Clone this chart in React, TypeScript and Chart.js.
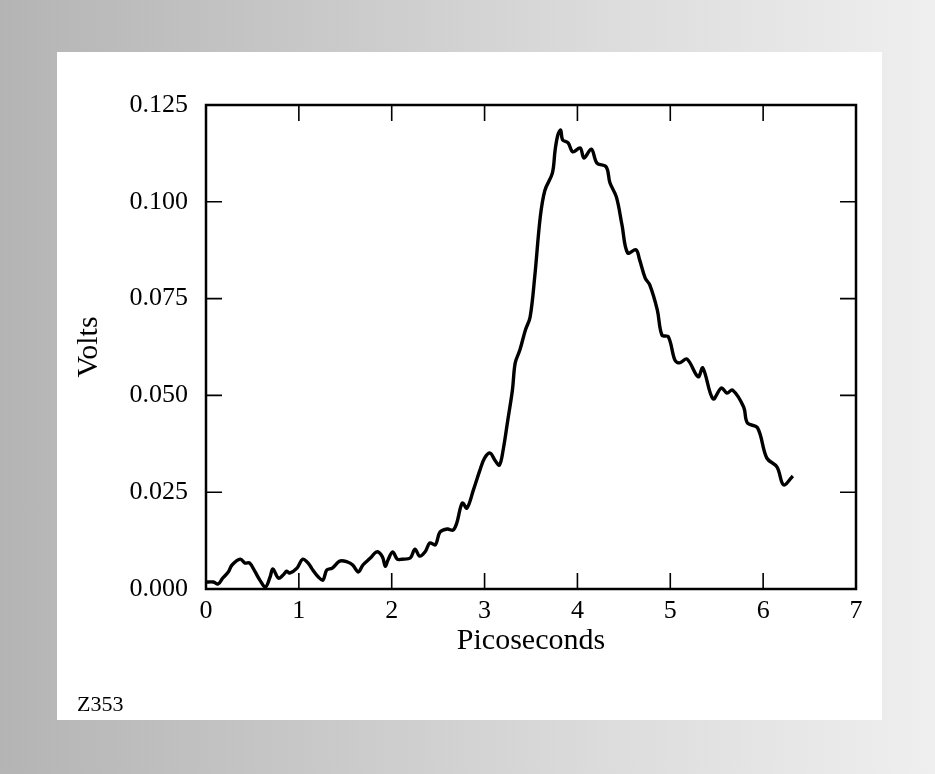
import React, { useEffect, useRef } from "react";
import { Chart, registerables } from "chart.js";

Chart.register(...registerables);

// Picoseconds (x) and Volts (y)
const timePs = [
  0.0, 0.08, 0.13, 0.18, 0.24, 0.28, 0.37, 0.42, 0.47, 0.53, 0.58, 0.64, 0.69, 0.72, 0.78, 0.83, 0.87, 0.9, 0.98,
  1.04, 1.1, 1.15, 1.21, 1.26, 1.3, 1.36, 1.44, 1.52, 1.58, 1.64, 1.69, 1.77, 1.84, 1.9, 1.93, 1.96,
  2.01, 2.06, 2.11, 2.2, 2.25, 2.3, 2.36, 2.41, 2.47, 2.52, 2.6, 2.66, 2.7, 2.76, 2.81, 2.88, 2.95,
  3.0, 3.06, 3.11, 3.16, 3.2, 3.25, 3.3, 3.33, 3.38, 3.44, 3.49, 3.54, 3.6, 3.65, 3.73, 3.76, 3.79, 3.82, 3.84, 3.9, 3.95,
  4.03, 4.07, 4.15, 4.21, 4.31, 4.35, 4.42, 4.48, 4.54, 4.63, 4.67, 4.73, 4.78, 4.86, 4.91, 4.98,
  5.05, 5.1, 5.18, 5.3, 5.35, 5.46, 5.55, 5.61, 5.67, 5.79, 5.83, 5.94,
  6.04, 6.15, 6.22, 6.32,
];
const volts = [
  0.0018, 0.0018, 0.0013, 0.0028, 0.0044, 0.0062, 0.0077, 0.0067, 0.0067, 0.0044, 0.0023, 0.0005, 0.0031, 0.0052, 0.0028, 0.0036, 0.0046, 0.0041, 0.0054,
  0.0077, 0.0067, 0.0049, 0.0031, 0.0023, 0.0049, 0.0054, 0.0072, 0.007, 0.0062, 0.0044, 0.0062, 0.008, 0.0096, 0.0083, 0.0059, 0.0075,
  0.0096, 0.0077, 0.0077, 0.008, 0.0103, 0.0085, 0.0096, 0.0119, 0.0114, 0.0147, 0.0155, 0.0152, 0.017, 0.0222, 0.0209, 0.0256, 0.0307,
  0.0338, 0.0351, 0.0333, 0.032, 0.0359, 0.0436, 0.0514, 0.0584, 0.0617, 0.0669, 0.0702, 0.0806, 0.0961, 0.103, 0.1074, 0.1134, 0.1173, 0.1185, 0.116, 0.1152, 0.1129,
  0.1139, 0.1113, 0.1136, 0.11, 0.109, 0.1049, 0.1012, 0.094, 0.0868, 0.0876, 0.085, 0.0803, 0.0785, 0.0721, 0.0656, 0.0651,
  0.0591, 0.0584, 0.0594, 0.0548, 0.0571, 0.0491, 0.0519, 0.0506, 0.0514, 0.047, 0.0429, 0.0416,
  0.0338, 0.0315, 0.0269, 0.0292,
];

const xTickValues = [0, 1, 2, 3, 4, 5, 6, 7];
const yTickValues = [0, 0.025, 0.05, 0.075, 0.1, 0.125];

const xTitle = "Picoseconds";
const yTitle = "Volts";
const figureId = "Z353";

const SERIF = "'Liberation Serif', 'Times New Roman', Times, serif";

const frameAndTicks = {
  id: "frameAndTicks",
  afterDatasetsDraw(chart: any) {
    const { ctx, chartArea } = chart;
    const xs = chart.scales.x;
    const ys = chart.scales.y;
    const len = 16;
    ctx.save();
    ctx.strokeStyle = "#000";
    ctx.lineWidth = 1.6;
    ctx.beginPath();
    xTickValues.slice(1, -1).forEach((v) => {
      const px = xs.getPixelForValue(v);
      ctx.moveTo(px, chartArea.bottom);
      ctx.lineTo(px, chartArea.bottom - len);
      ctx.moveTo(px, chartArea.top);
      ctx.lineTo(px, chartArea.top + len);
    });
    yTickValues.slice(1, -1).forEach((v) => {
      const py = ys.getPixelForValue(v);
      ctx.moveTo(chartArea.left, py);
      ctx.lineTo(chartArea.left + len, py);
      ctx.moveTo(chartArea.right, py);
      ctx.lineTo(chartArea.right - len, py);
    });
    ctx.stroke();
    ctx.lineWidth = 2.5;
    ctx.strokeRect(chartArea.left, chartArea.top, chartArea.right - chartArea.left, chartArea.bottom - chartArea.top);
    ctx.restore();
  },
};

export default function App() {
  const canvasRef = useRef<HTMLCanvasElement | null>(null);

  useEffect(() => {
    if (!canvasRef.current) return;
    const points = timePs.map((t, i) => ({ x: t, y: volts[i] }));
    const chart = new Chart(canvasRef.current, {
      type: "line",
      data: {
        datasets: [
          {
            data: points,
            borderColor: "#000",
            borderWidth: 3.4,
            pointRadius: 0,
            tension: 0.35,
            fill: false,
          },
        ],
      },
      options: {
        animation: false,
        responsive: false,
        devicePixelRatio: 1,
        layout: { padding: { left: 67, top: 105, right: 79, bottom: 111 } },
        plugins: { legend: { display: false }, tooltip: { enabled: false } },
        scales: {
          x: {
            type: "linear",
            min: 0,
            max: 7,
            afterFit: (s: any) => {
              s.height = 74;
            },
            afterBuildTicks: (s: any) => {
              s.ticks = xTickValues.map((v) => ({ value: v }));
            },
            ticks: {
              color: "#000",
              padding: -1,
              font: { family: SERIF, size: 26 },
              callback: (v: any) => String(v),
            },
            grid: { display: false },
            border: { display: false },
            title: {
              display: true,
              text: xTitle,
              color: "#000",
              font: { family: SERIF, size: 30 },
            },
          },
          y: {
            type: "linear",
            min: 0,
            max: 0.125,
            afterFit: (s: any) => {
              s.width = 139;
            },
            afterBuildTicks: (s: any) => {
              s.ticks = yTickValues.map((v) => ({ value: v }));
            },
            ticks: {
              color: "#000",
              padding: 10,
              font: { family: SERIF, size: 26 },
              callback: (v: any) => Number(v).toFixed(3),
            },
            grid: { display: false },
            border: { display: false },
            title: {
              display: true,
              text: yTitle,
              color: "#000",
              font: { family: SERIF, size: 30 },
            },
          },
        },
      },
      plugins: [frameAndTicks],
    });
    return () => chart.destroy();
  }, []);

  return (
    <div
      style={{
        position: "fixed",
        left: 0,
        top: 0,
        width: 935,
        height: 774,
        overflow: "hidden",
        background: "linear-gradient(to right, #b4b4b4 0%, #c6c6c6 30%, #dcdcdc 65%, #efefef 100%)",
      }}
    >
      <div
        style={{
          position: "absolute",
          left: 57,
          top: 52,
          width: 825,
          height: 668,
          background: "#fff",
        }}
      />
      <canvas
        ref={canvasRef}
        width={935}
        height={774}
        style={{ position: "absolute", left: 0, top: 0, width: 935, height: 774 }}
      />
      <div
        style={{
          position: "absolute",
          left: 77,
          top: 691,
          fontFamily: SERIF,
          fontSize: 22,
          color: "#000",
          lineHeight: "26px",
        }}
      >
        {figureId}
      </div>
    </div>
  );
}
